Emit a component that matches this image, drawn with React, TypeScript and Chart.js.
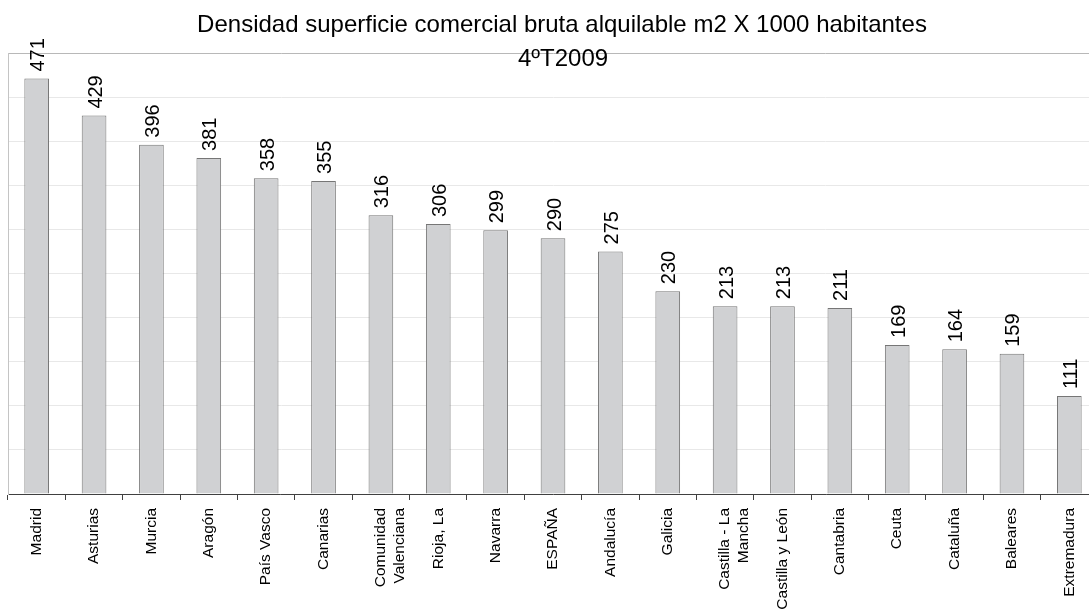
import React, { useEffect, useRef } from "react";
import { Chart, registerables } from "chart.js";

Chart.register(...registerables);

const categories: (string | string[])[] = [
  "Madrid",
  "Asturias",
  "Murcia",
  "Aragón",
  "País Vasco",
  "Canarias",
  ["Comunidad", "Valenciana"],
  "Rioja, La",
  "Navarra",
  "ESPAÑA",
  "Andalucía",
  "Galicia",
  ["Castilla - La", "Mancha"],
  "Castilla y León",
  "Cantabria",
  "Ceuta",
  "Cataluña",
  "Baleares",
  "Extremadura",
];

const values: number[] = [
  471, 429, 396, 381, 358, 355, 316, 306, 299, 290, 275, 230, 213, 213, 211, 169, 164, 159, 111,
];

const titleLines: string[] = [
  "Densidad superficie comercial bruta alquilable m2 X 1000 habitantes",
  "4ºT2009",
];

const yMin = 0;
const yMax = 500;
const yStep = 50;

const FONT = "'Liberation Sans', Arial, Helvetica, sans-serif";

const labelsPlugin = {
  id: "barValueLabels",
  afterDatasetsDraw(chart: any) {
    const ctx = chart.ctx;
    const meta = chart.getDatasetMeta(0);
    ctx.save();
    ctx.font = `20px ${FONT}`;
    ctx.fillStyle = "#000";
    ctx.textAlign = "left";
    ctx.textBaseline = "middle";
    meta.data.forEach((el: any, i: number) => {
      const v = chart.data.datasets[0].data[i];
      ctx.save();
      ctx.translate(el.x + 2, el.y - 7);
      ctx.rotate(-Math.PI / 2);
      ctx.fillText(String(v), 0, 0);
      ctx.restore();
    });
    ctx.restore();
  },
};

const titlePlugin = {
  id: "customTitle",
  afterDraw(chart: any) {
    const ctx = chart.ctx;
    ctx.save();
    ctx.font = `24px ${FONT}`;
    ctx.fillStyle = "#000";
    ctx.textAlign = "center";
    ctx.textBaseline = "alphabetic";
    ctx.fillText(titleLines[0], 562, 32);
    ctx.fillText(titleLines[1], 563, 66);
    ctx.restore();
  },
};

export default function App() {
  const canvasRef = useRef<HTMLCanvasElement | null>(null);

  useEffect(() => {
    if (!canvasRef.current) return;
    const chart = new Chart(canvasRef.current, {
      type: "bar",
      data: {
        labels: categories as any,
        datasets: [
          {
            data: values,
            backgroundColor: "#d0d1d3",
            borderColor: "#767676",
            borderWidth: 1,
            barPercentage: 0.43,
            categoryPercentage: 1,
          },
        ],
      },
      options: {
        animation: false,
        responsive: true,
        maintainAspectRatio: false,
        layout: { padding: { left: 8, right: 0, top: 53, bottom: 0 } },
        plugins: {
          legend: { display: false },
          title: { display: false },
          tooltip: { enabled: false },
        },
        scales: {
          x: {
            afterFit: (s: any) => {
              s.height = 121;
            },
            grid: {
              display: true,
              offset: true,
              drawOnChartArea: false,
              drawTicks: true,
              tickLength: 6,
              color: "#404040",
            },
            border: { display: true, color: "#404040", width: 1 },
            ticks: {
              autoSkip: false,
              minRotation: 90,
              maxRotation: 90,
              padding: 8,
              color: "#000",
              font: { family: FONT, size: 15.5 },
            },
          },
          y: {
            min: yMin,
            max: yMax,
            afterFit: (s: any) => {
              s.width = 0;
            },
            ticks: { display: false, stepSize: yStep },
            grid: {
              drawTicks: false,
              color: (c: any) => (c.tick && c.tick.value === yMax ? "#b8b8b8" : "#e8e8e8"),
            },
            border: { display: true, color: "#c4c4c4" },
          },
        },
      },
      plugins: [labelsPlugin, titlePlugin],
    });
    return () => chart.destroy();
  }, []);

  return (
    <div
      style={{
        position: "fixed",
        left: 0,
        top: 0,
        width: 1089,
        height: 615,
        overflow: "hidden",
        background: "#fff",
      }}
    >
      <div style={{ position: "relative", width: 1098, height: 615 }}>
        <canvas ref={canvasRef} />
      </div>
    </div>
  );
}
